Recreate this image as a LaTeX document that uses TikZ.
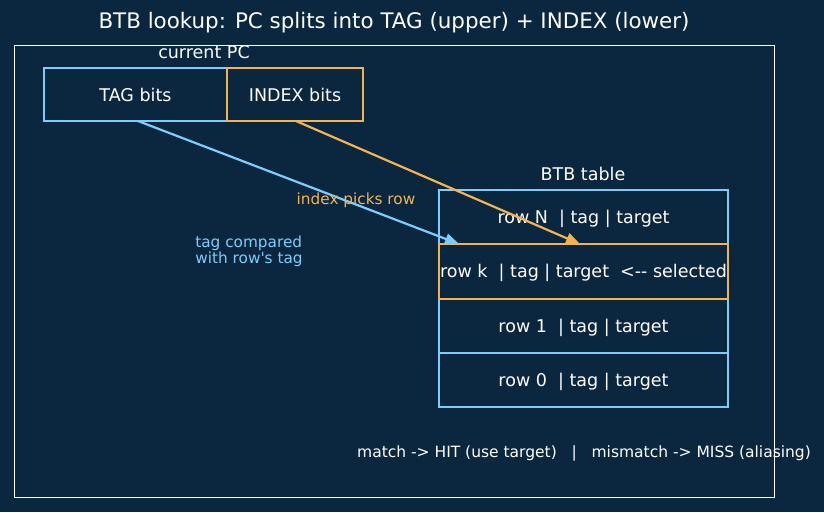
\documentclass[tikz,border=0pt]{standalone}
\usepackage{fontspec}
\setmainfont{DejaVu Sans}[Ligatures=TeXOff]
\usetikzlibrary{arrows.meta}
\definecolor{bg}{RGB}{11,39,64}
\definecolor{cblue}{RGB}{125,205,250}
\definecolor{corange}{RGB}{242,180,80}
\tikzset{
  box/.style={draw, line width=2.5pt, inner sep=0pt},
  rowtxt/.style={text=white, font=\fontsize{17.5}{20}\selectfont},
  conn/.style={line width=2.2pt, -{Triangle[length=14pt,width=11pt]}},
}
\begin{document}
\begin{tikzpicture}[x=1pt,y=-1pt]
\fill[bg] (0,0) rectangle (824,512);
\useasboundingbox (0,0) rectangle (824,512);
\draw[white, line width=0.8pt] (14,45) rectangle (774,497);
\node[text=white, font=\fontsize{21.4}{25}\selectfont] (title) at (394,23) {BTB lookup: PC splits into TAG (upper) + INDEX (lower)};
\node[rowtxt] (cpc) at (204,52) {current PC};
% PC boxes
\draw[box, cblue] (44,68) rectangle (227,121);
\draw[box, corange] (227,68) rectangle (363,121);
\node[rowtxt] (tag) at (135.5,95) {TAG bits};
\node[rowtxt] (idx) at (295,95) {INDEX bits};
\coordinate (tagb) at (138,121);
\coordinate (idxb) at (296,121);
% BTB table
\node[rowtxt] (btbl) at (583,174) {BTB table};
\draw[box, cblue] (439,190) rectangle (728,244);
\draw[box, cblue] (439,299) rectangle (728,353);
\draw[box, cblue] (439,353) rectangle (728,407);
\draw[box, corange] (439,244) rectangle (728,299);
\node[rowtxt] (rN) at (583.5,218.5) {row N\ \ | tag | target};
\node[rowtxt] (rk) at (583.5,273) {row k\ \ | tag | target\ \ <-- selected};
\node[rowtxt] (r1) at (583.5,327.5) {row 1\ \ | tag | target};
\node[rowtxt] (r0) at (583.5,381.5) {row 0\ \ | tag | target};
\coordinate (tagtip) at (459,244);
\coordinate (idxtip) at (580,244);
% arrows
\draw[conn, cblue] (tagb) -- (tagtip);
\draw[conn, corange] (idxb) -- (idxtip);
\node[text=corange, font=\fontsize{15.3}{17}\selectfont] (ipr) at (356,200) {index picks row};
\node[text=cblue, font=\fontsize{15.3}{16.5}\selectfont, align=left] (tcw) at (249,251.5) {tag compared\\with row's tag};
\node[text=white, font=\fontsize{15.5}{17}\selectfont] (bot) at (584,453) {match -> HIT (use target)\ \ \ |\ \ \ mismatch -> MISS (aliasing)};
\end{tikzpicture}
\end{document}
